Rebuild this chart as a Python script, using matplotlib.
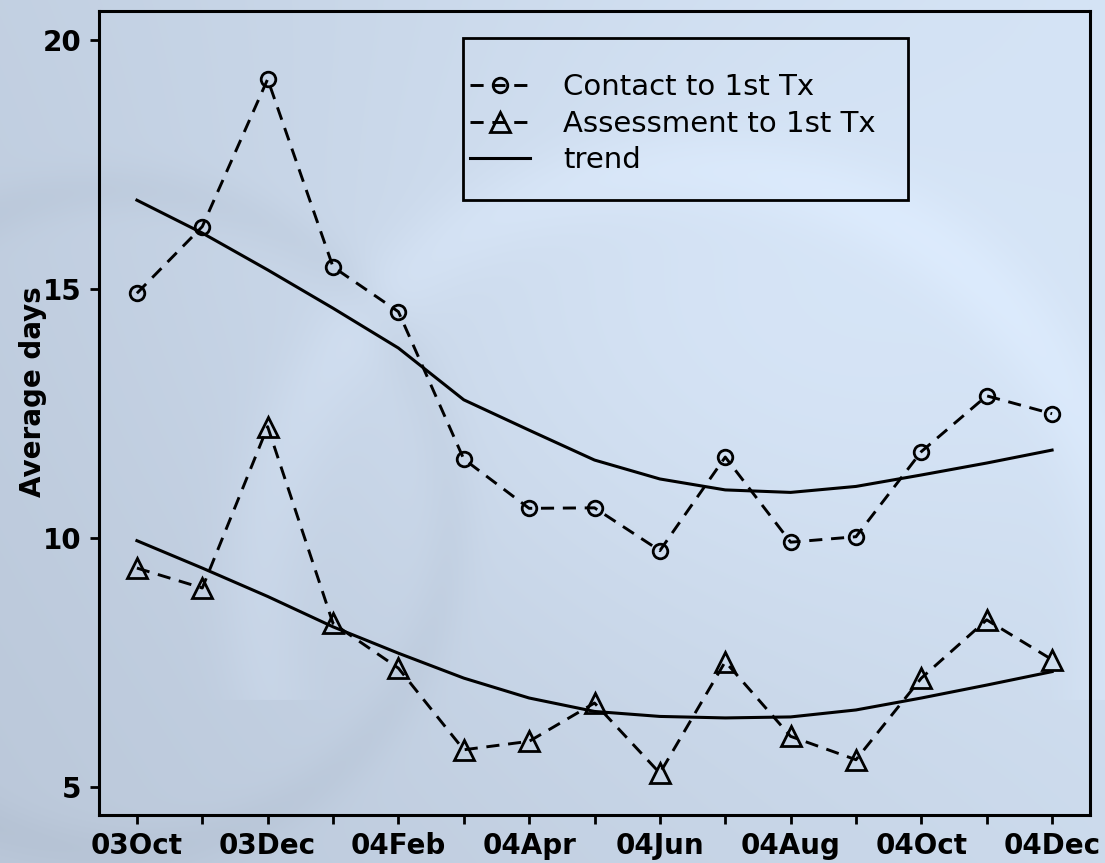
import numpy as np
import matplotlib
matplotlib.use("Agg")
import matplotlib.pyplot as plt
from matplotlib.patches import Rectangle

# ---- data ----
months = ["03Oct", "03Nov", "03Dec", "04Jan", "04Feb", "04Mar", "04Apr", "04May",
          "04Jun", "04Jul", "04Aug", "04Sep", "04Oct", "04Nov", "04Dec"]
contact = [14.92, 16.26, 19.22, 15.45, 14.55, 11.59, 10.60, 10.61, 9.75, 11.63,
           9.92, 10.03, 11.74, 12.86, 12.50]
assess = [9.40, 9.00, 12.24, 8.29, 7.39, 5.75, 5.92, 6.69, 5.28, 7.52,
          6.02, 5.55, 7.19, 8.36, 7.56]
trend_contact = [16.79, 16.13, 15.39, 14.62, 13.82, 12.78, 12.17, 11.57, 11.19, 10.97,
                 10.92, 11.04, 11.27, 11.51, 11.77]
trend_assess = [9.95, 9.40, 8.83, 8.22, 7.69, 7.19, 6.79, 6.52, 6.42, 6.39,
                6.41, 6.55, 6.79, 7.05, 7.32]
yticks = [5, 10, 15, 20]
series_labels = ["Contact to 1st Tx", "Assessment to 1st Tx", "trend"]
ylabel = "Average days"

plt.rcParams['font.family'] = ['DejaVu Sans']

W, H = 1105, 863
fig = plt.figure(figsize=(W / 100, H / 100), dpi=100)

# ---- decorative background ----
bg = fig.add_axes([0, 0, 1, 1], zorder=-10)
yy, xx = np.mgrid[0:H, 0:W]
u = xx / W
v = yy / H
left = np.array([0.72, 0.77, 0.84])
right = np.array([0.84, 0.90, 0.97])
t = np.clip(0.55 * u + 0.25 * (1 - v) + 0.1, 0, 1)[..., None]
img = left * (1 - t) + right * t
r2 = ((xx - 720) / 420.0) ** 2 + ((yy - 330) / 320.0) ** 2
img = img + 0.04 * np.exp(-r2)[..., None]
rr = np.sqrt((xx - 690.0) ** 2 + (yy - 600.0) ** 2)
ring = np.exp(-((rr - 430) / 40.0) ** 2) * (yy < 700)
img = img + 0.025 * ring[..., None]
rr2 = np.sqrt((xx - 120.0) ** 2 + (yy - 520.0) ** 2)
ring2 = np.exp(-((rr2 - 330) / 25.0) ** 2)
img = img - 0.02 * ring2[..., None]
img = np.clip(img, 0, 1)
bg.imshow(img, aspect='auto', extent=[0, 1, 0, 1], origin='upper')
bg.set_axis_off()

# ---- main axes ----
ax = fig.add_axes([99 / W, 1 - 815 / H, (1090 - 99) / W, (815 - 11) / H])
ax.set_facecolor('none')
x = np.arange(len(months))

dash = (0, (4.5, 3))
ax.plot(x, contact, color='black', lw=2.1, ls=dash, marker='o', ms=10.5,
        mfc='none', mec='black', mew=2, label=series_labels[0])
ax.plot(x, assess, color='black', lw=2.1, ls=dash, marker='^', ms=14,
        mfc='none', mec='black', mew=2, label=series_labels[1])
ax.plot(x, trend_contact, color='black', lw=2.2, ls='-', label=series_labels[2])
ax.plot(x, trend_assess, color='black', lw=2.2, ls='-')

ax.set_xlim(-0.58, 14.58)
ax.set_ylim(4.44, 20.59)
ax.set_xticks(x[::2])
ax.set_xticklabels(months[::2])
ax.set_xticks(x[1::2], minor=True)
ax.set_yticks(yticks)
ax.set_yticklabels([str(t) for t in yticks])

for s in ax.spines.values():
    s.set_linewidth(2.2)
ax.tick_params(axis='both', which='both', direction='out', length=6.5, width=2)
ax.tick_params(axis='x', which='major', pad=6, labelsize=20)
ax.tick_params(axis='y', which='major', pad=6, labelsize=20)
for lab in ax.get_xticklabels() + ax.get_yticklabels():
    lab.set_fontweight('bold')

ax.set_ylabel(ylabel, fontsize=20, fontweight='bold')
ax.yaxis.set_label_coords(-0.0525, 0.526)

leg = ax.legend(loc='upper left', bbox_to_anchor=(470 / W, 1 - 73 / H),
                bbox_transform=fig.transFigure, borderaxespad=0, borderpad=0,
                fontsize=21, frameon=False, handlelength=2.05,
                handletextpad=1.13, labelspacing=0.3, numpoints=1)

fig.patches.append(Rectangle((463 / W, 1 - 200 / H), (908 - 463) / W, (200 - 38) / H,
                             transform=fig.transFigure, fill=False,
                             edgecolor='black', linewidth=2, zorder=5))

fig.savefig('out.png', dpi=100)
